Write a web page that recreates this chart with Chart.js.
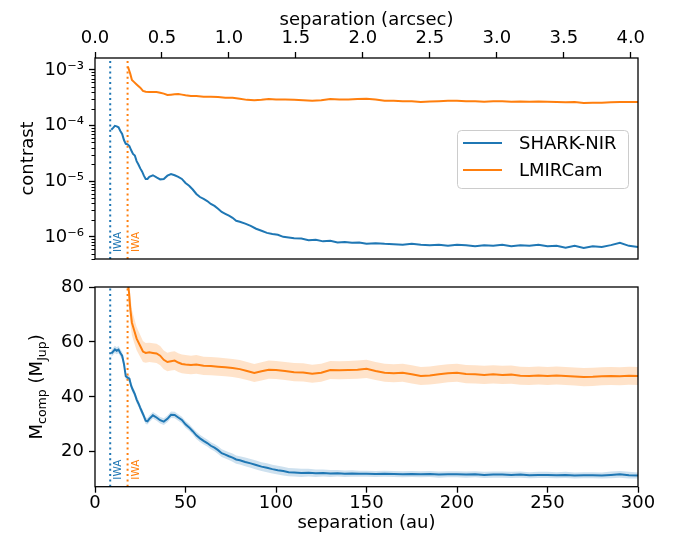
<!DOCTYPE html>
<html>
<head>
<meta charset="utf-8">
<script src="https://cdn.jsdelivr.net/npm/chart.js@4/dist/chart.umd.min.js"></script>
<style>
  html, body { margin: 0; padding: 0; background: #fff; }
  #top { position: absolute; left: 0; top: 0; width: 678px; height: 272px; }
  #bottom { position: absolute; left: 0; top: 272px; width: 678px; height: 268px; }
</style>
</head>
<body>
<div id="top"><canvas id="contrastChart"></canvas></div>
<div id="bottom"><canvas id="massChart"></canvas></div>
<script>
// axes
const auPerArcsec = 74;
const sepRange = [0, 300];
const contrastRange = [4.0e-7, 1.64e-3];
const massRange = [7.3, 80];
const auTicks = [0, 50, 100, 150, 200, 250, 300];
const arcsecTicks = [0.0, 0.5, 1.0, 1.5, 2.0, 2.5, 3.0, 3.5, 4.0];
const contrastTicks = [1e-6, 1e-5, 1e-4, 1e-3];
const contrastTickLabels = ['10⁻⁶', '10⁻⁵', '10⁻⁴', '10⁻³'];
const massTicks = [20, 40, 60, 80];

const instruments = ['SHARK-NIR', 'LMIRCam'];
const iwaSep = [8.4, 18.0];

// SHARK-NIR
const sharkSep = [9, 10, 11, 12, 13, 14, 15, 16, 17, 18, 19, 20, 21, 22, 23, 24, 25, 26, 27, 28, 29, 30,
  32, 34, 36, 38, 40, 42, 44, 46, 48, 50, 52, 54, 56, 58, 60, 62, 64, 66, 68, 70, 72, 74, 76, 78, 80,
  83, 86, 89, 92, 95, 98, 101, 104, 107, 110,
  114, 118, 122, 126, 130, 134, 138, 142, 146,
  150, 155, 160, 165, 170, 175, 180, 185, 190, 195, 200, 205, 210, 215, 220, 225, 230, 235, 240, 245,
  250, 255, 260, 265, 270, 275, 280, 285, 290, 295, 300];
const sharkContrast = [8.4e-5, 9.1e-5, 9.9e-5, 9.7e-5, 9.3e-5, 8.0e-5, 7.1e-5, 5.5e-5, 4.7e-5, 4.6e-5, 4.3e-5,
  3.6e-5, 3.1e-5, 2.9e-5, 2.3e-5, 2.0e-5, 1.7e-5, 1.5e-5, 1.26e-5, 1.1e-5, 1.1e-5, 1.2e-5,
  1.28e-5, 1.17e-5, 1.08e-5, 1.1e-5, 1.26e-5, 1.35e-5, 1.28e-5, 1.2e-5, 1.1e-5, 9.3e-6, 8.3e-6, 7.1e-6,
  5.9e-6, 5.2e-6, 4.8e-6, 4.4e-6, 3.9e-6, 3.6e-6, 3.2e-6, 2.8e-6, 2.6e-6, 2.4e-6, 2.2e-6, 1.95e-6, 1.87e-6,
  1.73e-6, 1.58e-6, 1.4e-6, 1.29e-6, 1.18e-6, 1.13e-6, 1.09e-6, 1.0e-6, 9.7e-7, 9.4e-7,
  9.3e-7, 8.7e-7, 8.9e-7, 8.3e-7, 8.5e-7, 7.9e-7, 8.1e-7, 7.8e-7, 7.9e-7,
  7.5e-7, 7.7e-7, 7.5e-7, 7.4e-7, 7.2e-7, 7.5e-7, 7.2e-7, 7.1e-7, 7.2e-7, 6.9e-7, 7.2e-7, 7.1e-7, 6.8e-7,
  7.1e-7, 6.9e-7, 7.2e-7, 6.8e-7, 7.1e-7, 6.9e-7, 7.2e-7, 6.8e-7, 6.9e-7, 6.4e-7, 6.9e-7, 6.3e-7, 6.8e-7,
  6.6e-7, 7.1e-7, 7.8e-7, 6.9e-7, 6.6e-7];
const sharkMass = [55.8, 56.5, 57.3, 56.8, 57.2, 56.0, 55.0, 52.0, 47.5, 47.0, 46.6, 44.0, 42.4, 41.0, 39.0,
  37.6, 36.0, 34.5, 33.0, 31.3, 31.1, 32.0,
  33.3, 32.5, 31.5, 31.0, 32.0, 33.5, 33.4, 32.5, 31.6, 30.0, 28.9, 27.5, 26.0, 24.9, 24.0, 23.2, 22.2,
  21.5, 20.6, 19.5, 19.0, 18.4, 17.9, 17.2, 16.9,
  16.3, 15.8, 15.2, 14.6, 14.2, 13.7, 13.3, 13.0, 12.6, 12.5,
  12.3, 12.4, 12.2, 12.3, 12.1, 12.2, 12.0, 12.1, 12.0,
  12.0, 11.9, 12.0, 11.9, 11.8, 11.9, 11.8, 11.9, 11.7, 11.8, 11.8, 11.7, 11.8, 11.6, 11.7, 11.7, 11.6,
  11.7, 11.5, 11.6, 11.6, 11.5, 11.6, 11.4, 11.5, 11.5, 11.4, 11.6, 11.8, 11.5, 11.4];
const sharkMassErr = [1.3, 1.3, 1.3, 1.3, 1.3, 1.3, 1.3, 1.3, 1.2, 1.2, 1.2, 1.2, 1.2, 1.2, 1.2, 1.2, 1.2,
  1.2, 1.2, 1.2, 1.2, 1.2,
  1.2, 1.2, 1.2, 1.2, 1.2, 1.2, 1.2, 1.2, 1.2, 1.2, 1.2, 1.2, 1.3, 1.3, 1.3, 1.3, 1.3, 1.3, 1.4, 1.4,
  1.4, 1.4, 1.5, 1.5, 1.5,
  1.6, 1.6, 1.6, 1.6, 1.6, 1.6, 1.6, 1.6, 1.5, 1.5,
  1.5, 1.4, 1.4, 1.3, 1.3, 1.2, 1.2, 1.2, 1.1,
  1.1, 1.1, 1.1, 1.1, 1.1, 1.1, 1.1, 1.1, 1.1, 1.1, 1.1, 1.1, 1.1, 1.1, 1.1, 1.1, 1.1, 1.1, 1.1, 1.1,
  1.1, 1.1, 1.1, 1.1, 1.1, 1.1, 1.1, 1.2, 1.2, 1.2, 1.1];

// LMIRCam
const lmirSep = [18.2, 18.8, 19.5, 20.4, 21.5, 23, 25, 26.5, 28,
  30, 32, 34, 36, 38, 40, 42, 44, 46, 48, 50, 53, 56,
  60, 64, 68, 72, 76, 80, 84, 88, 92, 96, 100,
  105, 110, 115, 120, 125, 130, 135, 140, 145, 150, 155, 160, 165, 170, 175, 180, 185, 190, 195, 200,
  205, 210, 215, 220, 225, 230, 235, 240, 245, 250, 255, 260, 265, 270, 275, 280, 285, 290, 295, 300];
const lmirContrast = [1.15e-3, 1.0e-3, 8.5e-4, 6.6e-4, 6.1e-4, 5.5e-4, 4.8e-4, 4.2e-4, 4.05e-4,
  4.0e-4, 4.0e-4, 4.0e-4, 3.9e-4, 3.75e-4, 3.55e-4, 3.6e-4, 3.65e-4, 3.7e-4, 3.6e-4, 3.5e-4, 3.4e-4, 3.4e-4,
  3.3e-4, 3.3e-4, 3.25e-4, 3.15e-4, 3.15e-4, 3.05e-4, 2.9e-4, 2.85e-4, 2.9e-4, 3.0e-4, 2.95e-4,
  2.95e-4, 2.9e-4, 2.85e-4, 2.8e-4, 2.85e-4, 3.0e-4, 2.95e-4, 2.95e-4, 3.0e-4, 3.05e-4, 2.95e-4, 2.8e-4,
  2.8e-4, 2.75e-4, 2.75e-4, 2.66e-4, 2.72e-4, 2.75e-4, 2.8e-4, 2.8e-4,
  2.75e-4, 2.74e-4, 2.68e-4, 2.73e-4, 2.74e-4, 2.68e-4, 2.72e-4, 2.67e-4, 2.72e-4, 2.68e-4, 2.66e-4,
  2.62e-4, 2.66e-4, 2.56e-4, 2.58e-4, 2.57e-4, 2.62e-4, 2.66e-4, 2.65e-4, 2.66e-4];
const lmirMass = [81, 78, 72, 67, 64.5, 61.2, 58.5, 56.5, 56.0,
  56.2, 56.0, 55.8, 55.0, 53.5, 52.7, 53.0, 53.2, 52.5, 52.0, 51.8, 51.6, 51.8,
  51.3, 51.2, 51.0, 50.8, 50.5, 50.1, 49.4, 48.7, 49.3, 49.9, 49.8,
  49.4, 49.0, 48.9, 48.4, 48.8, 49.8, 49.7, 49.8, 49.9, 50.2, 49.4, 48.8, 48.6, 48.8, 48.2, 47.6, 47.8,
  48.2, 48.6, 48.8,
  48.3, 48.2, 48.0, 48.2, 48.0, 48.1, 47.7, 47.6, 47.8, 47.6, 47.8, 47.6, 47.4, 47.2, 47.3, 47.5, 47.6,
  47.5, 47.7, 47.6];
const lmirMassErr = [5.5, 5.2, 5.0, 4.7, 4.5, 4.2, 4.0, 3.8, 3.6,
  3.5, 3.5, 3.5, 3.5, 3.4, 3.4, 3.4, 3.4, 3.4, 3.4, 3.4, 3.4, 3.4,
  3.3, 3.3, 3.3, 3.3, 3.3, 3.3, 3.3, 3.3, 3.3, 3.3, 3.3,
  3.3, 3.3, 3.3, 3.3, 3.3, 3.3, 3.3, 3.3, 3.3, 3.3, 3.3, 3.3, 3.3, 3.3, 3.3, 3.3, 3.3, 3.3, 3.3, 3.3,
  3.3, 3.3, 3.3, 3.3, 3.3, 3.3, 3.3, 3.3, 3.3, 3.3, 3.3, 3.3, 3.3, 3.3, 3.3, 3.3, 3.3, 3.3, 3.3, 3.3];

const colors = ['#1f77b4', '#ff7f0e'];
const bands = ['rgba(31,119,180,0.22)', 'rgba(255,127,14,0.22)'];
const FONT = { family: 'DejaVu Sans', size: 18 };

const pts = (xs, ys) => xs.map((x, i) => ({ x, y: ys[i] }));
const fixedTicks = values => scale => { scale.ticks = values.map(v => ({ value: v })); };
// fixed box size, and no extra label overflow padding pushing the plot area around
const fixSize = (dim, px) => s => {
  s[dim] = px;
  s.paddingTop = s.paddingBottom = s.paddingLeft = s.paddingRight = 0;
};
const grid = { drawOnChartArea: false, tickLength: 6, tickWidth: 1.3, tickColor: '#000' };
const tickFont = { font: FONT, color: '#000', autoSkip: false, maxRotation: 0 };

function line(label, data, color) {
  return { label, data, borderColor: color, borderWidth: 2, pointRadius: 0, tension: 0, fill: false };
}
function iwaLine(sep, range, color) {
  return { data: [{ x: sep, y: range[0] }, { x: sep, y: range[1] }], borderColor: color, borderWidth: 2,
    borderDash: [2, 3.3], pointRadius: 0, fill: false };
}

// frame, IWA labels, axis titles, legend
function decor(opts) {
  return {
    id: 'decor',
    afterDraw(chart) {
      const ctx = chart.ctx, a = chart.chartArea, xs = chart.scales.x;
      ctx.save();
      // minor log ticks
      if (opts.minorLog) {
        const ys = chart.scales.y;
        ctx.strokeStyle = '#000';
        ctx.lineWidth = 1;
        for (let e = -7; e <= -3; e++) {
          for (let m = 2; m <= 9; m++) {
            const v = m * Math.pow(10, e);
            if (v < ys.min || v > ys.max) continue;
            const py = Math.round(ys.getPixelForValue(v)) + 0.5;
            ctx.beginPath(); ctx.moveTo(a.left - 3.5, py); ctx.lineTo(a.left, py); ctx.stroke();
          }
        }
      }
      // frame
      ctx.strokeStyle = '#000';
      ctx.lineWidth = 1.3;
      ctx.strokeRect(a.left, a.top, a.right - a.left, a.bottom - a.top);
      // IWA text
      ctx.font = '10.5px "DejaVu Sans"';
      ctx.textAlign = 'left';
      ctx.textBaseline = 'middle';
      iwaSep.forEach((s, i) => {
        ctx.save();
        ctx.translate(xs.getPixelForValue(s) + 8.5, a.bottom - 7);
        ctx.rotate(-Math.PI / 2);
        ctx.fillStyle = colors[i];
        ctx.fillText('IWA', 0, 0);
        ctx.restore();
      });
      // titles
      ctx.fillStyle = '#000';
      ctx.font = '18px "DejaVu Sans"';
      ctx.textAlign = 'center';
      ctx.textBaseline = 'alphabetic';
      ctx.fillText(opts.xTitle, (a.left + a.right) / 2, opts.xTitleY);
      ctx.save();
      ctx.translate(opts.yTitleX, (a.top + a.bottom) / 2);
      ctx.rotate(-Math.PI / 2);
      ctx.textAlign = 'left';
      let total = 0;
      opts.yTitle.forEach(p => { ctx.font = p[1] + 'px "DejaVu Sans"'; total += ctx.measureText(p[0]).width; });
      let cx = -total / 2;
      opts.yTitle.forEach(p => {
        ctx.font = p[1] + 'px "DejaVu Sans"';
        ctx.fillText(p[0], cx, p[2]);
        cx += ctx.measureText(p[0]).width;
      });
      ctx.restore();
      // legend
      if (opts.legend) {
        const lx = a.right - 181, ly = a.top + 72, w = 171, h = 58;
        ctx.beginPath();
        ctx.roundRect(lx + 0.5, ly + 0.5, w, h, 4);
        ctx.fillStyle = 'rgba(255,255,255,0.8)';
        ctx.fill();
        ctx.strokeStyle = '#cccccc';
        ctx.lineWidth = 1;
        ctx.stroke();
        ctx.font = '18px "DejaVu Sans"';
        ctx.textAlign = 'left';
        ctx.textBaseline = 'middle';
        instruments.forEach((name, i) => {
          const ry = ly + 13 + i * 27;
          ctx.strokeStyle = colors[i];
          ctx.lineWidth = 2;
          ctx.beginPath(); ctx.moveTo(lx + 6, ry); ctx.lineTo(lx + 45, ry); ctx.stroke();
          ctx.fillStyle = '#000';
          ctx.fillText(name, lx + 62, ry + 1);
        });
      }
      ctx.restore();
    }
  };
}

Chart.defaults.font.family = 'DejaVu Sans';

new Chart(document.getElementById('contrastChart'), {
  type: 'line',
  data: {
    datasets: [
      line(instruments[0], pts(sharkSep, sharkContrast), colors[0]),
      line(instruments[1], pts(lmirSep, lmirContrast), colors[1]),
      iwaLine(iwaSep[0], contrastRange, colors[0]),
      iwaLine(iwaSep[1], contrastRange, colors[1])
    ]
  },
  options: {
    responsive: true, maintainAspectRatio: false, animation: false, devicePixelRatio: 1, events: [],
    layout: { padding: { left: 0, right: 40, top: 0, bottom: 13 } },
    plugins: { legend: { display: false }, tooltip: { enabled: false } },
    scales: {
      x: { type: 'linear', min: sepRange[0], max: sepRange[1], display: false },
      xArc: {
        type: 'linear', position: 'top', min: sepRange[0] / auPerArcsec, max: sepRange[1] / auPerArcsec,
        afterBuildTicks: fixedTicks(arcsecTicks), afterFit: fixSize('height', 58),
        grid, border: { display: false },
        ticks: { ...tickFont, padding: 3, callback: v => v.toFixed(1) }
      },
      y: {
        type: 'logarithmic', min: contrastRange[0], max: contrastRange[1],
        afterBuildTicks: fixedTicks(contrastTicks), afterFit: fixSize('width', 95),
        grid, border: { display: false },
        ticks: { ...tickFont, padding: 5, callback: (v, i) => contrastTickLabels[i] }
      }
    }
  },
  plugins: [decor({
    minorLog: true, legend: true,
    xTitle: 'separation (arcsec)', xTitleY: 25,
    yTitleX: 33, yTitle: [['contrast', 18, 0]]
  })]
});

new Chart(document.getElementById('massChart'), {
  type: 'line',
  data: {
    datasets: [
      line(instruments[0], pts(sharkSep, sharkMass), colors[0]),
      line(instruments[1], pts(lmirSep, lmirMass), colors[1]),
      iwaLine(iwaSep[0], massRange, colors[0]),
      iwaLine(iwaSep[1], massRange, colors[1]),
      { data: pts(sharkSep, sharkMass.map((m, i) => m + sharkMassErr[i])), borderWidth: 0, pointRadius: 0, fill: false },
      { data: pts(sharkSep, sharkMass.map((m, i) => m - sharkMassErr[i])), borderWidth: 0, pointRadius: 0,
        fill: '-1', backgroundColor: bands[0] },
      { data: pts(lmirSep, lmirMass.map((m, i) => m + lmirMassErr[i])), borderWidth: 0, pointRadius: 0, fill: false },
      { data: pts(lmirSep, lmirMass.map((m, i) => m - lmirMassErr[i])), borderWidth: 0, pointRadius: 0,
        fill: '-1', backgroundColor: bands[1] }
    ]
  },
  options: {
    responsive: true, maintainAspectRatio: false, animation: false, devicePixelRatio: 1, events: [],
    layout: { padding: { left: 0, right: 40, top: 15, bottom: 0 } },
    plugins: { legend: { display: false }, tooltip: { enabled: false } },
    scales: {
      x: {
        type: 'linear', min: sepRange[0], max: sepRange[1],
        afterBuildTicks: fixedTicks(auTicks), afterFit: fixSize('height', 53.3),
        grid, border: { display: false },
        ticks: { ...tickFont, padding: 0, callback: v => String(v) }
      },
      y: {
        type: 'linear', min: massRange[0], max: massRange[1],
        afterBuildTicks: fixedTicks(massTicks), afterFit: fixSize('width', 95),
        grid, border: { display: false },
        ticks: { ...tickFont, padding: 5, callback: v => String(v) }
      }
    }
  },
  plugins: [decor({
    xTitle: 'separation (au)', xTitleY: 256,
    yTitleX: 42, yTitle: [['M', 18, 0], ['comp', 12.6, 4], [' (M', 18, 0], ['Jup', 12.6, 4], [')', 18, 0]]
  })]
});
</script>
</body>
</html>
